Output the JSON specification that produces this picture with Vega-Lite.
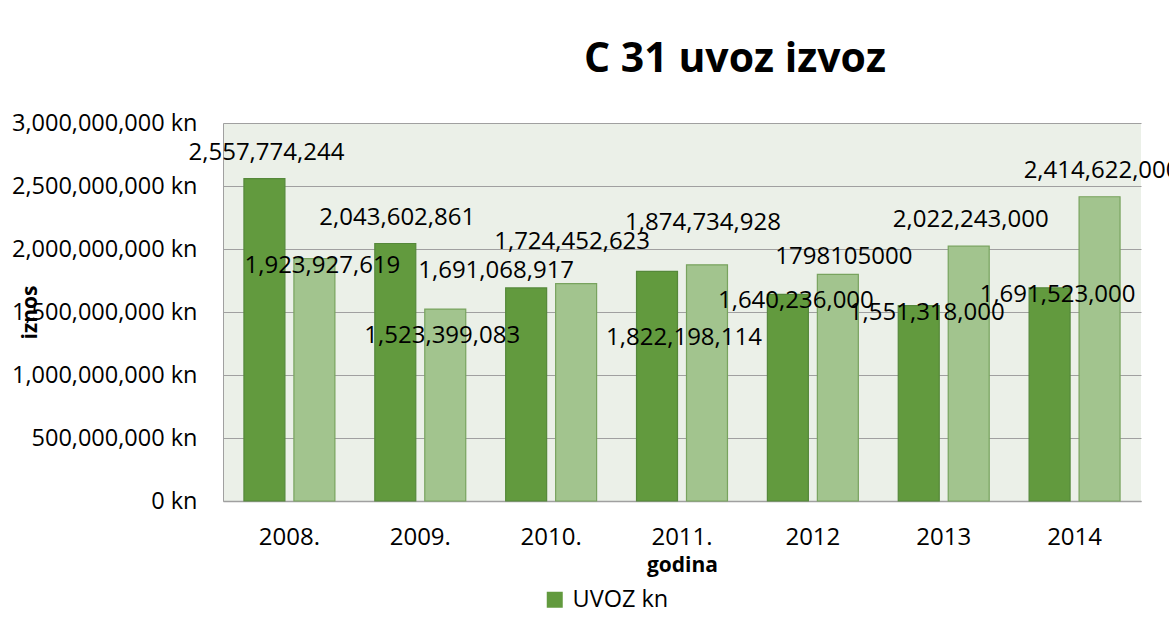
{
  "$schema": "https://vega.github.io/schema/vega-lite/v6.json",
  "width": 918,
  "height": 378,
  "autosize": "none",
  "padding": {"left": 223, "top": 123, "right": 28, "bottom": 130},
  "background": "white",
  "title": {"text": "C 31 uvoz izvoz", "font": "Open Sans", "fontSize": 41, "fontWeight": "bold", "color": "#000000", "anchor": "middle", "frame": "group", "dx": 53, "offset": 30},
  "config": {"view": {"stroke": null, "fill": "#EBF0E8"}, "font": "Open Sans", "text": {"fontSize": 24, "color": "#000000", "baseline": "middle"}},
  "data": {"values": [
    {"godina": "2008.", "serija": "UVOZ kn", "iznos": 2557774244, "oznaka": "2,557,774,244"},
    {"godina": "2008.", "serija": "IZVOZ kn", "iznos": 1923927619, "oznaka": "1,923,927,619"},
    {"godina": "2009.", "serija": "UVOZ kn", "iznos": 2043602861, "oznaka": "2,043,602,861"},
    {"godina": "2009.", "serija": "IZVOZ kn", "iznos": 1523399083, "oznaka": "1,523,399,083"},
    {"godina": "2010.", "serija": "UVOZ kn", "iznos": 1691068917, "oznaka": "1,691,068,917"},
    {"godina": "2010.", "serija": "IZVOZ kn", "iznos": 1724452623, "oznaka": "1,724,452,623"},
    {"godina": "2011.", "serija": "UVOZ kn", "iznos": 1822198114, "oznaka": "1,822,198,114"},
    {"godina": "2011.", "serija": "IZVOZ kn", "iznos": 1874734928, "oznaka": "1,874,734,928"},
    {"godina": "2012", "serija": "UVOZ kn", "iznos": 1640236000, "oznaka": "1,640,236,000"},
    {"godina": "2012", "serija": "IZVOZ kn", "iznos": 1798105000, "oznaka": "1798105000"},
    {"godina": "2013", "serija": "UVOZ kn", "iznos": 1551318000, "oznaka": "1,551,318,000"},
    {"godina": "2013", "serija": "IZVOZ kn", "iznos": 2022243000, "oznaka": "2,022,243,000"},
    {"godina": "2014", "serija": "UVOZ kn", "iznos": 1691523000, "oznaka": "1,691,523,000"},
    {"godina": "2014", "serija": "IZVOZ kn", "iznos": 2414622000, "oznaka": "2,414,622,000"}
  ]},
  "encoding": {
    "x": {
      "field": "godina", "type": "nominal", "sort": null,
      "scale": {"paddingInner": 0.305, "paddingOuter": 0.16},
      "axis": {"labelAngle": 0, "labelFontSize": 24, "labelColor": "#000000", "labelPadding": 24, "ticks": false, "domainColor": "#A0A0A0", "domainWidth": 1.5, "title": "godina", "titleFontSize": 21, "titleFontWeight": "bold", "titleColor": "#000000", "titlePadding": 5}
    },
    "xOffset": {"field": "serija", "type": "nominal", "sort": ["UVOZ kn", "IZVOZ kn"], "scale": {"paddingInner": 0.18, "paddingOuter": 0}},
    "y": {
      "field": "iznos", "type": "quantitative",
      "scale": {"domain": [0, 3000000000], "nice": false},
      "axis": {"values": [0, 500000000, 1000000000, 1500000000, 2000000000, 2500000000, 3000000000], "labelExpr": "format(datum.value, ',') + ' kn'", "labelFontSize": 23.5, "labelLimit": 0, "labelColor": "#000000", "labelPadding": 26, "ticks": false, "domain": true, "domainColor": "#A0A0A0", "gridColor": "#A0A0A0", "gridWidth": 1.2, "title": "iznos", "titleFontSize": 21, "titleFontWeight": "bold", "titleColor": "#000000", "titleX": -193, "titleY": 189, "titleBaseline": "middle", "titleAngle": -90}
    },
    "text": {"field": "oznaka"}
  },
  "layer": [
    {
      "mark": {"type": "bar", "strokeWidth": 1.2},
      "encoding": {
        "text": null,
        "color": {
          "field": "serija", "type": "nominal",
          "scale": {"domain": ["UVOZ kn", "IZVOZ kn"], "range": ["#629A3E", "#A2C48E"]},
          "legend": {"orient": "none", "legendX": 320, "legendY": 465, "values": ["UVOZ kn"], "title": null, "labelFontSize": 23.5, "labelColor": "#000000", "symbolType": "square", "symbolSize": 256, "symbolStrokeWidth": 0, "padding": 0, "labelOffset": 6}
        },
        "stroke": {
          "field": "serija", "type": "nominal",
          "scale": {"domain": ["UVOZ kn", "IZVOZ kn"], "range": ["#55883A", "#78A35E"]},
          "legend": null
        }
      }
    },
    {
      "transform": [{"filter": "indexof(['2008.|UVOZ kn', '2009.|UVOZ kn', '2013|IZVOZ kn', '2014|IZVOZ kn'], datum.godina + '|' + datum.serija) >= 0"}],
      "mark": {"type": "text", "dy": -26, "dx": 2}
    },
    {
      "transform": [{"filter": "indexof(['2010.|UVOZ kn'], datum.godina + '|' + datum.serija) >= 0"}],
      "mark": {"type": "text", "dy": -17, "dx": -30}
    },
    {
      "transform": [{"filter": "indexof(['2012|IZVOZ kn'], datum.godina + '|' + datum.serija) >= 0"}],
      "mark": {"type": "text", "dy": -17, "dx": 6}
    },
    {
      "transform": [{"filter": "indexof(['2010.|IZVOZ kn', '2011.|IZVOZ kn'], datum.godina + '|' + datum.serija) >= 0"}],
      "mark": {"type": "text", "dy": -42, "dx": -4}
    },
    {
      "transform": [{"filter": "indexof(['2008.|IZVOZ kn', '2012|UVOZ kn', '2013|UVOZ kn', '2014|UVOZ kn'], datum.godina + '|' + datum.serija) >= 0"}],
      "mark": {"type": "text", "dy": 7, "dx": 8}
    },
    {
      "transform": [{"filter": "indexof(['2009.|IZVOZ kn'], datum.godina + '|' + datum.serija) >= 0"}],
      "mark": {"type": "text", "dy": 27, "dx": -3}
    },
    {
      "transform": [{"filter": "indexof(['2011.|UVOZ kn'], datum.godina + '|' + datum.serija) >= 0"}],
      "mark": {"type": "text", "dy": 67, "dx": 27}
    }
  ]
}
